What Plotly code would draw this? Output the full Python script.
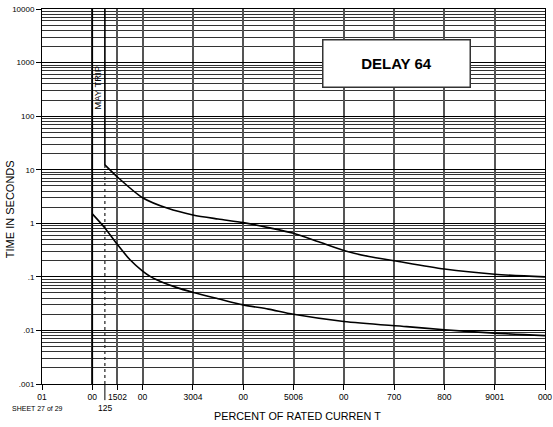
import math
import plotly.graph_objects as go

# ---- data ----
upper_x = [125, 150, 200, 250, 300, 350, 400, 450, 500, 550, 600, 650, 700, 800, 900, 1000]
upper_y = [12.3, 7.3, 3.0, 1.9, 1.43, 1.2, 1.03, 0.83, 0.65, 0.45, 0.31, 0.24, 0.2, 0.14, 0.112, 0.1]
lower_x = [100, 125, 150, 175, 200, 215, 228, 264, 301, 350, 400, 450, 500, 600, 725, 800, 900, 1000]
lower_y = [1.5, 0.82, 0.40, 0.208, 0.128, 0.102, 0.088, 0.065, 0.051, 0.039, 0.030, 0.025, 0.020, 0.0147, 0.0118, 0.0103, 0.0089, 0.008]

x_tickvals = [0, 100, 150, 200, 300, 400, 500, 600, 700, 800, 900, 1000]
x_ticktext = ["01", "00", "1502", "00", "3004", "00", "5006", "00", "700", "800", "9001", "000"]
y_tickvals = [0.001, 0.01, 0.1, 1, 10, 100, 1000, 10000]
y_ticktext = [".001", ".01", ".1", "1", "10", "100", "1000", "10000"]
y_minor = [m * 10 ** k for k in range(-3, 4) for m in range(2, 10)]

FONT = "Liberation Sans, Arial, sans-serif"

fig = go.Figure()

# dashed 125% line below upper curve start
fig.add_trace(go.Scatter(x=[125, 125], y=[0.001, upper_y[0]], mode="lines",
                         line=dict(color="#222", width=1.2, dash="dot"), hoverinfo="skip"))
# vertical parts of curves
fig.add_trace(go.Scatter(x=[125, 125], y=[10000, upper_y[0]], mode="lines",
                         line=dict(color="black", width=1.6), hoverinfo="skip"))
fig.add_trace(go.Scatter(x=[100, 100], y=[0.001, 10000], mode="lines",
                         line=dict(color="black", width=1.6), hoverinfo="skip"))
# curves
fig.add_trace(go.Scatter(x=upper_x, y=upper_y, mode="lines",
                         line=dict(color="black", width=1.6, shape="spline", smoothing=0.8)))
fig.add_trace(go.Scatter(x=lower_x, y=lower_y, mode="lines",
                         line=dict(color="black", width=1.6, shape="spline", smoothing=0.8)))

fig.update_layout(
    width=553, height=427,
    margin=dict(l=42, r=8, t=9, b=43, autoexpand=False),
    paper_bgcolor="white", plot_bgcolor="white",
    showlegend=False,
    font=dict(family=FONT, size=8, color="black"),
    xaxis=dict(
        range=[0, 1000], tickvals=x_tickvals, ticktext=x_ticktext,
        showgrid=True, gridcolor="#555", gridwidth=1.5, automargin=False,
        ticks="outside", ticklen=5, tickcolor="black", tickwidth=1,
        showline=True, linecolor="black", linewidth=1, mirror=True,
        zeroline=False, tickfont=dict(size=8.5, family=FONT),
    ),
    yaxis=dict(
        type="log", range=[-3, 4], tickvals=y_tickvals, ticktext=y_ticktext,
        showgrid=True, gridcolor="black", gridwidth=1, automargin=False,
        ticks="outside", ticklen=5, tickcolor="black", tickwidth=1,
        showline=True, linecolor="black", linewidth=1, mirror=True,
        zeroline=False, tickfont=dict(size=8, family=FONT),
        minor=dict(tickvals=y_minor, showgrid=True, gridcolor="#333", gridwidth=1, ticks=""),
    ),
)

# long tick at 125
fig.add_shape(type="line", xref="x", yref="paper", x0=125, x1=125, y0=0, y1=-0.043,
              line=dict(color="black", width=1))

annotations = [
    dict(x=125, y=-0.064, xref="x", yref="paper", text="125", showarrow=False,
         yanchor="middle", font=dict(size=8.5)),
    dict(x=-0.063, y=0.467, xref="paper", yref="paper", text="TIME IN SECONDS", showarrow=False,
         textangle=-90, xanchor="center", yanchor="middle", font=dict(size=11)),
    dict(x=508, y=-0.085, xref="x", yref="paper", text="PERCENT OF RATED CURREN T", showarrow=False,
         xanchor="center", yanchor="middle", font=dict(size=10.8)),
    dict(x=-0.0636, y=-0.064, xref="paper", yref="paper", text="SHEET 27 of 29", showarrow=False,
         xanchor="left", yanchor="middle", font=dict(size=7)),
    dict(x=111, y=math.log10(336), xref="x", yref="y", text="MAY TRIP", showarrow=False,
         textangle=-90, font=dict(size=9.5), xanchor="center", yanchor="middle"),
    dict(x=704, y=math.log10(980), xref="x", yref="y", text="<b>DELAY 64</b>", showarrow=False,
         font=dict(size=15, family=FONT), bgcolor="white", bordercolor="#333",
         borderwidth=1.5, width=144, height=44, borderpad=1),
]
fig.update_layout(annotations=annotations)

fig.write_html("out.html", config={"displayModeBar": False},
               post_script="document.body.style.margin='0px';")
